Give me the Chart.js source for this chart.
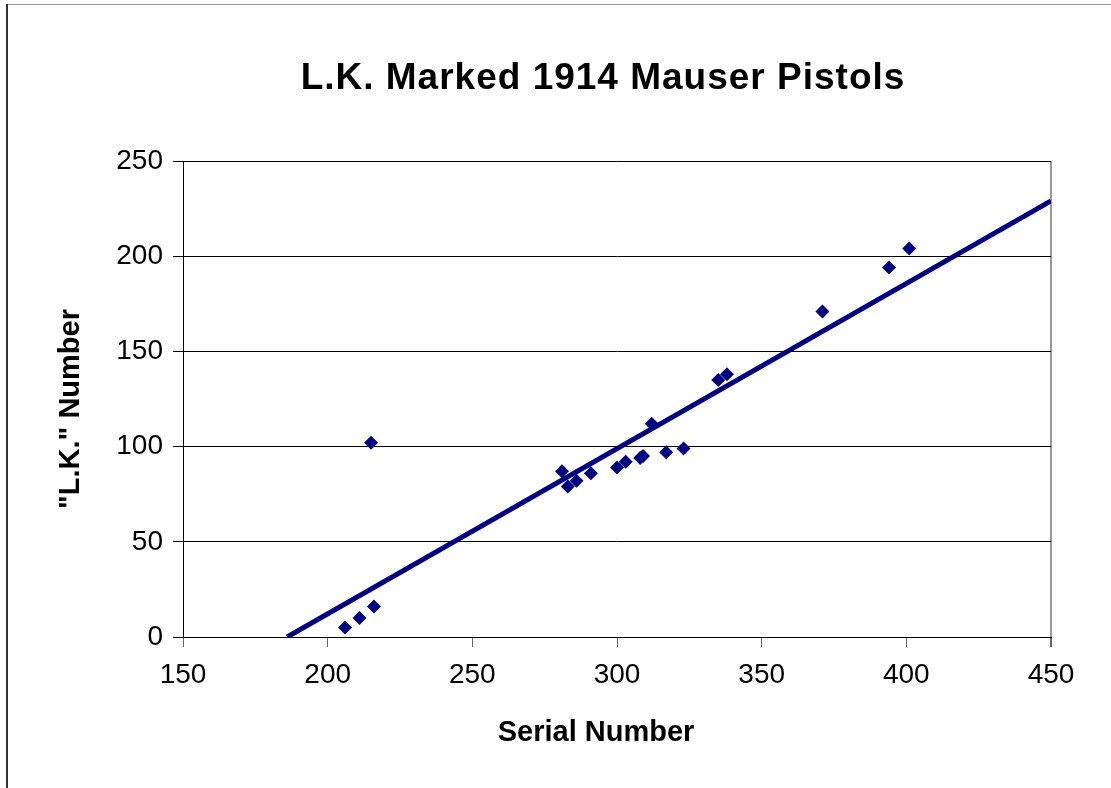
<!DOCTYPE html>
<html>
<head>
<meta charset="utf-8">
<script src="https://cdn.jsdelivr.net/npm/chart.js@4.4.0/dist/chart.umd.min.js"></script>
<style>
  html, body { margin: 0; padding: 0; background: #fff; }
  #wrap { width: 1111px; height: 788px; }
</style>
</head>
<body>
<div id="wrap"><canvas id="lkChart" width="1111" height="788"></canvas></div>
<script>
// values
const serialNumbers = [206, 211, 216, 215, 281, 283, 286, 291, 300, 303, 308, 309, 312, 317, 323, 335, 338, 371, 394, 401];
const lkNumbers = [5, 10, 16, 102, 87, 79, 82, 86, 89, 92, 94, 95, 112, 97, 99, 135, 138, 171, 194, 204];
const trendX = [186, 450];
const trendY = [0, 229];

const chartTitle = 'L.K. Marked 1914 Mauser Pistols';
const xTitle = 'Serial Number';
const yTitle = '"L.K." Number';

const FONT = "'Liberation Sans', Arial, sans-serif";
const NAVY = '#000080';

const points = serialNumbers.map((x, i) => ({ x: x, y: lkNumbers[i] }));
const trend = trendX.map((x, i) => ({ x: x, y: trendY[i] }));

// background, outer frame and the text
const decor = {
    id: 'decor',
    beforeDraw(chart) {
        const ctx = chart.ctx;
        ctx.save();
        ctx.fillStyle = '#fff';
        ctx.fillRect(0, 0, chart.width, chart.height);
        ctx.strokeStyle = '#999';
        ctx.lineWidth = 1;
        ctx.beginPath();
        ctx.moveTo(7, 4.5);
        ctx.lineTo(chart.width, 4.5);
        ctx.stroke();
        ctx.strokeStyle = '#333';
        ctx.lineWidth = 2;
        ctx.beginPath();
        ctx.moveTo(7, 4);
        ctx.lineTo(7, chart.height);
        ctx.stroke();
        ctx.restore();
    },
    afterDraw(chart) {
        const ctx = chart.ctx;
        ctx.save();
        ctx.fillStyle = '#000';
        ctx.textAlign = 'center';
        ctx.textBaseline = 'middle';
        ctx.font = 'bold 37px ' + FONT;
        ctx.letterSpacing = '1px';
        ctx.fillText(chartTitle, 603, 79);
        ctx.letterSpacing = '0px';
        ctx.font = 'bold 29px ' + FONT;
        ctx.fillText(xTitle, 596, 733);
        ctx.translate(71, 409);
        ctx.rotate(-Math.PI / 2);
        ctx.fillText(yTitle, 0, 0);
        ctx.restore();
    }
};

const ctx = document.getElementById('lkChart').getContext('2d');
new Chart(ctx, {
    type: 'scatter',
    data: {
        datasets: [
            {
                label: 'L.K. Number',
                data: points,
                pointStyle: 'rectRot',
                pointRadius: 7,
                pointHoverRadius: 7,
                backgroundColor: NAVY,
                borderColor: NAVY,
                borderWidth: 0
            },
            {
                label: 'Trend',
                type: 'line',
                data: trend,
                borderColor: NAVY,
                borderWidth: 5,
                pointRadius: 0,
                fill: false,
                showLine: true
            }
        ]
    },
    options: {
        responsive: false,
        animation: false,
        layout: { padding: { top: 161, right: 60, bottom: 0, left: 0 } },
        plugins: {
            legend: { display: false },
            title: { display: false },
            tooltip: { enabled: false }
        },
        scales: {
            x: {
                type: 'linear',
                min: 150,
                max: 450,
                afterFit(scale) { scale.height = 151; },
                ticks: {
                    stepSize: 50,
                    color: '#000',
                    padding: 11,
                    font: { family: FONT, size: 28 }
                },
                grid: {
                    color: c => (c.index === 6 ? '#999' : 'rgba(0,0,0,0)'),
                    lineWidth: c => (c.index === 6 ? 2 : 1),
                    tickColor: '#666',
                    tickLength: 10
                },
                border: { color: '#000', width: 1 }
            },
            y: {
                type: 'linear',
                min: 0,
                max: 250,
                afterFit(scale) { scale.width = 183; },
                ticks: {
                    stepSize: 50,
                    color: '#000',
                    padding: 10,
                    font: { family: FONT, size: 28 }
                },
                grid: {
                    color: '#000',
                    lineWidth: 1,
                    tickColor: '#000',
                    tickLength: 10
                },
                border: { color: '#000', width: 1 }
            }
        }
    },
    plugins: [decor]
});
</script>
</body>
</html>
